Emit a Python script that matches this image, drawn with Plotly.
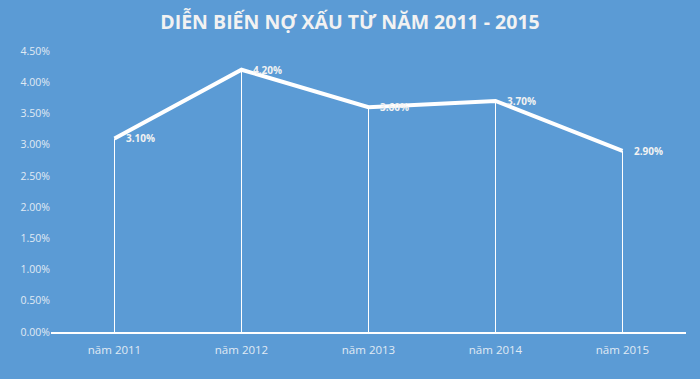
import plotly.graph_objects as go

categories = ["năm 2011", "năm 2012", "năm 2013", "năm 2014", "năm 2015"]
values = [0.031, 0.042, 0.036, 0.037, 0.029]
labels = ["3.10%", "4.20%", "3.60%", "3.70%", "2.90%"]
title_text = "DIỄN BIẾN NỢ XẤU TỪ NĂM 2011 - 2015"

BG = "#5B9BD5"
FONT = "Open Sans"

fig = go.Figure()
fig.add_trace(go.Scatter(
    x=categories, y=values,
    mode="lines",
    line=dict(color="white", width=4),
    error_y=dict(type="data", symmetric=False, array=[0] * len(values),
                 arrayminus=values, color="white", thickness=1, width=0),
    hoverinfo="skip",
))

for c, v, t in zip(categories, values, labels):
    fig.add_annotation(x=c, y=v, text=t, showarrow=False, xanchor="left",
                       yanchor="middle", xshift=9,
                       font=dict(family=FONT, size=10, color="#F2F2F2", weight="bold"))

fig.update_layout(
    width=700, height=379,
    paper_bgcolor=BG, plot_bgcolor=BG,
    margin=dict(l=51, r=14, t=51, b=47),
    showlegend=False,
    title=dict(text=title_text, x=0.5, xanchor="center", y=0.942, yanchor="middle",
               font=dict(family=FONT, size=19.5, color="#F2F2F2", weight="bold")),
    xaxis=dict(type="category", range=[-0.5, 4.5], showgrid=False, zeroline=False,
               showline=True, linecolor="white", linewidth=1.5, ticks="outside",
               ticklen=6, tickcolor=BG,
               tickfont=dict(family=FONT, size=11.5, color="#E0EAF4")),
    yaxis=dict(range=[0, 0.045], dtick=0.005, tickformat=".2%", showgrid=False,
               zeroline=False, showline=False, ticks="",
               tickfont=dict(family=FONT, size=10.5, color="#E0EAF4")),
)

fig.write_html("out.html", config={"displayModeBar": False},
               post_script="document.body.style.margin='0';document.body.style.padding='0';")
